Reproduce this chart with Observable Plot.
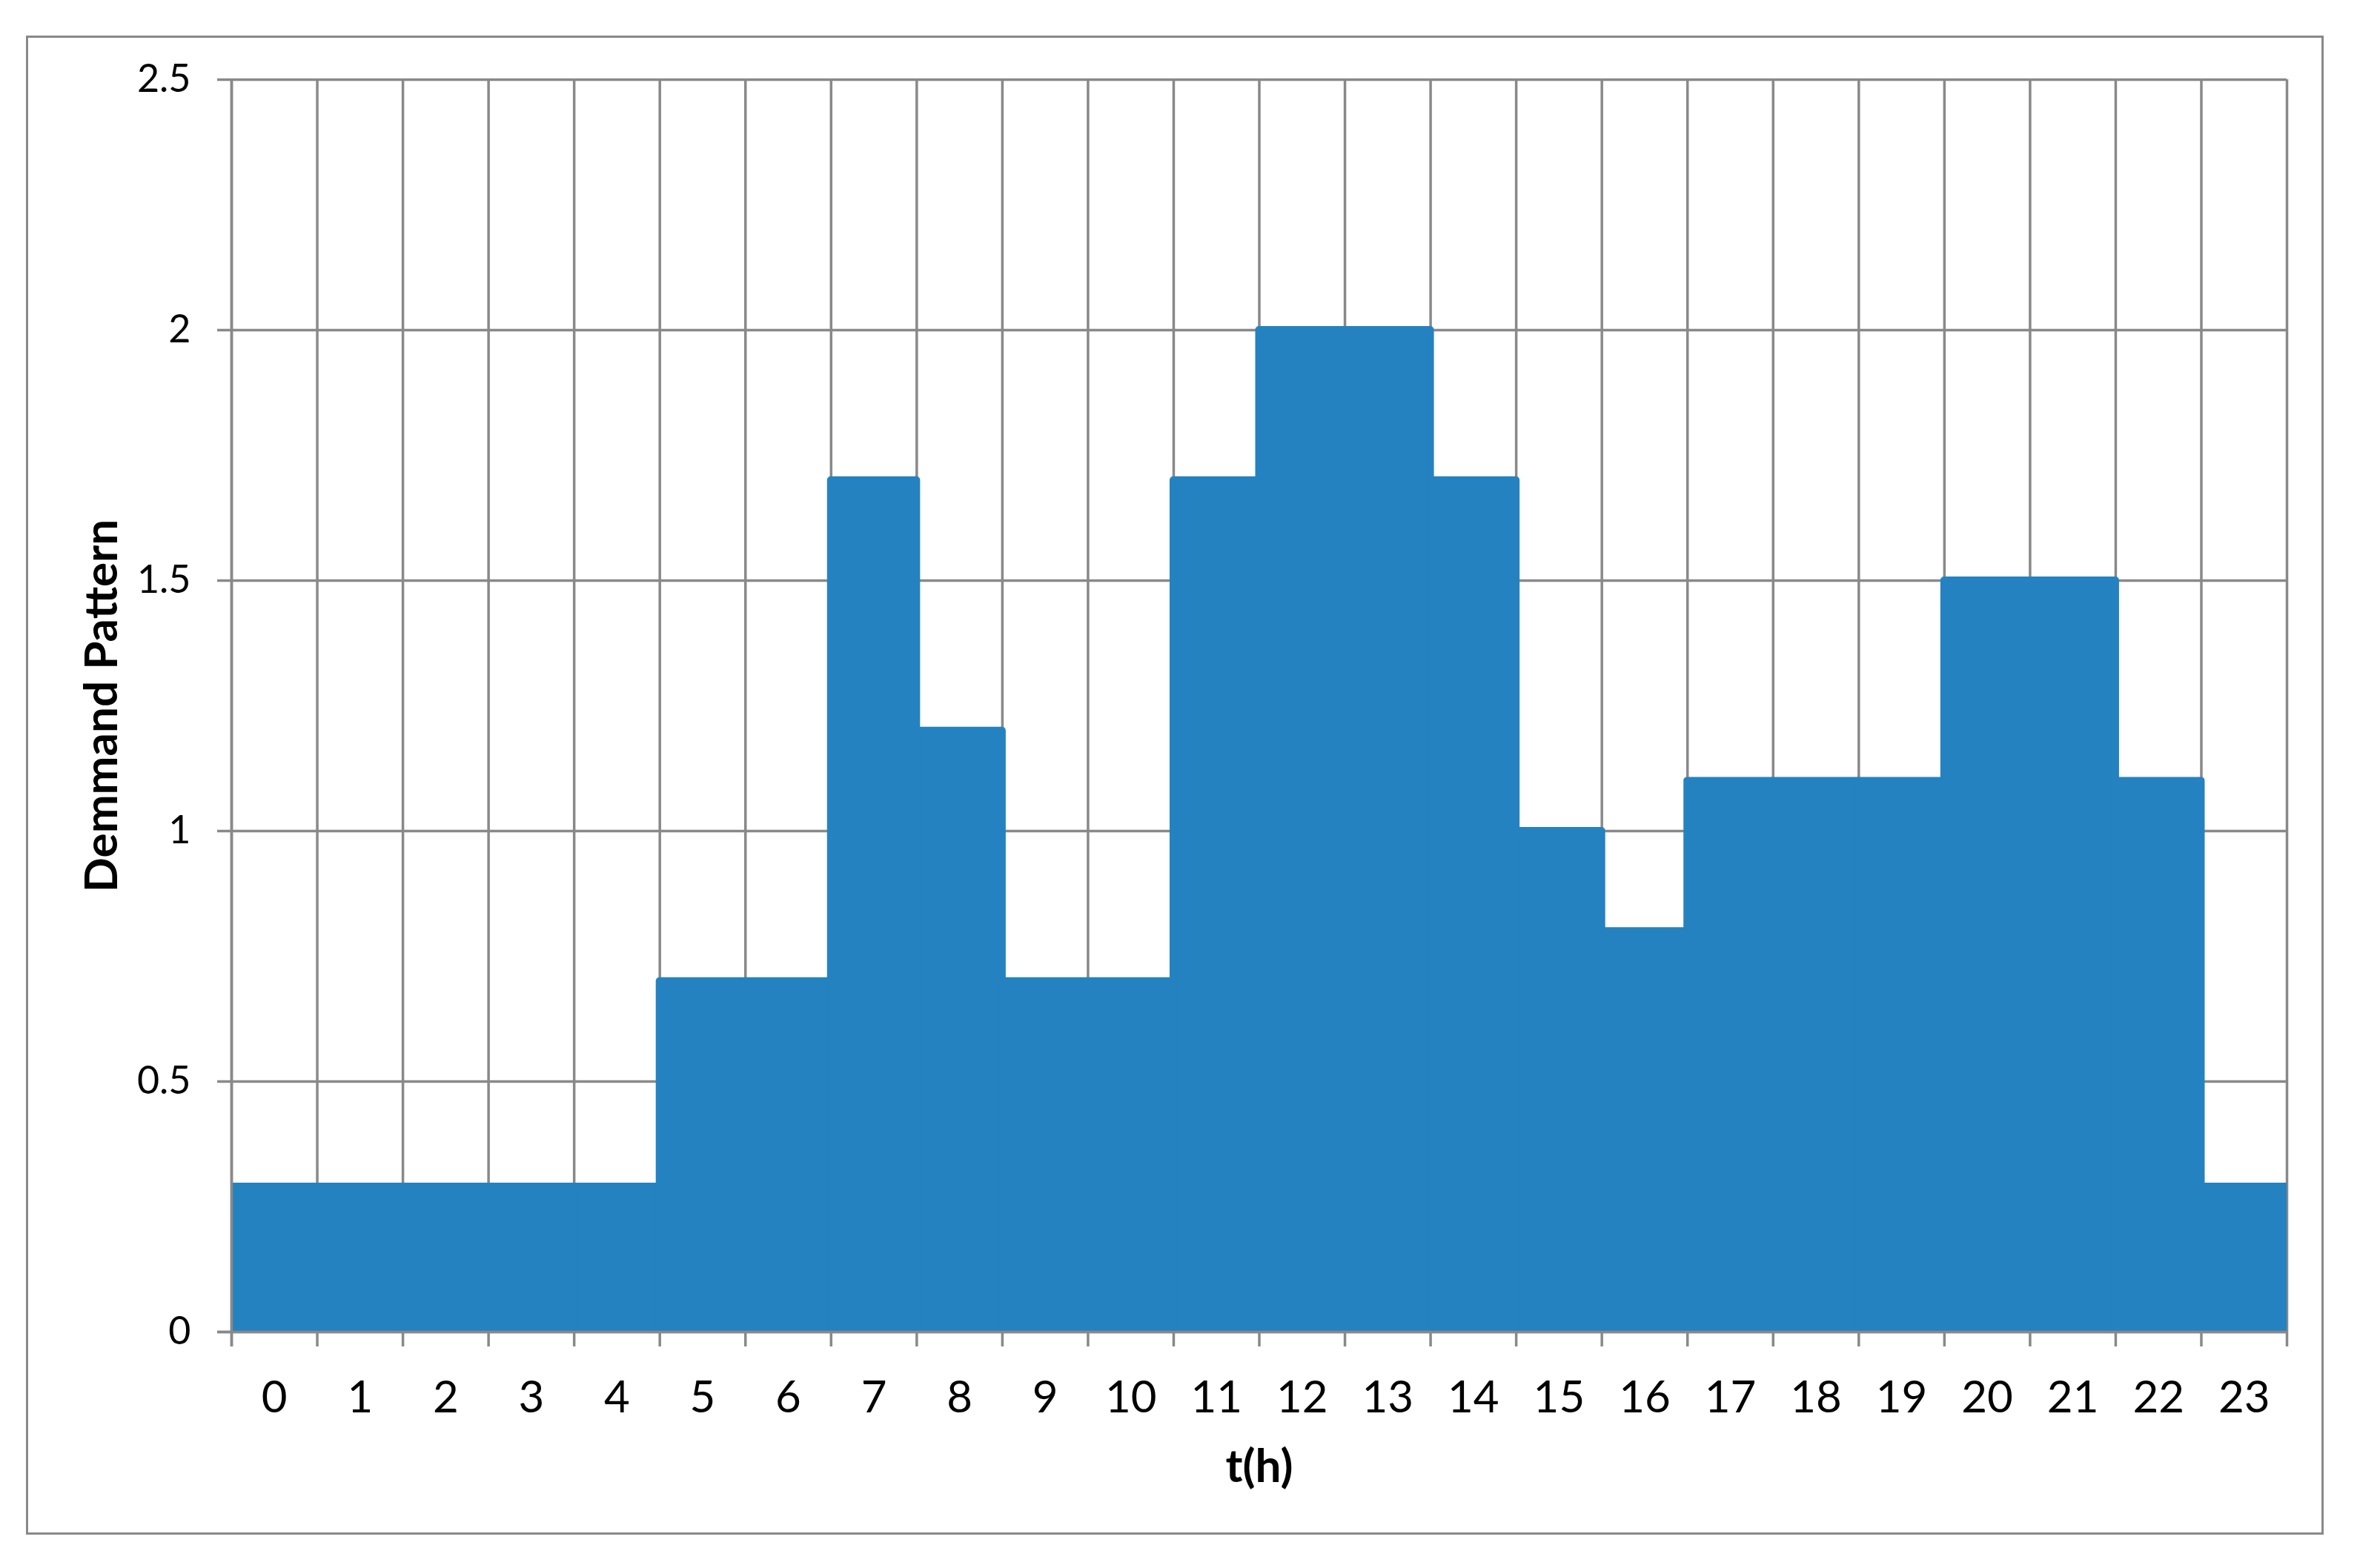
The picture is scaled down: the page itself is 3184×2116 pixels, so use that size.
<!DOCTYPE html>
<html>
<head>
<meta charset="utf-8">
<script src="https://cdn.jsdelivr.net/npm/d3@7"></script>
<script src="https://cdn.jsdelivr.net/npm/@observablehq/plot@0.6"></script>
<style>
  html, body { margin: 0; padding: 0; background: #ffffff; }
  body { width: 3184px; height: 2116px; position: relative; overflow: hidden; }
  #frame { position: absolute; left: 35px; top: 48px; width: 3100px; height: 2023px;
           border: 3.5px solid #898989; box-sizing: border-box; }
  #chart { position: absolute; left: 0; top: 0; }
</style>
</head>
<body>
<div id="frame"></div>
<div id="chart"></div>
<script>
// ---- data ----
const hours = [0,1,2,3,4,5,6,7,8,9,10,11,12,13,14,15,16,17,18,19,20,21,22,23];
const demand = [0.29,0.29,0.29,0.29,0.29,0.7,0.7,1.7,1.2,0.7,0.7,1.7,2,2,1.7,1,0.8,1.1,1.1,1.1,1.5,1.5,1.1,0.29];
const yTicks = [0,0.5,1,1.5,2,2.5];
const xTickLabels = ["0","1","2","3","4","5","6","7","8","9","10","11","12","13","14","15","16","17","18","19","20","21","22","23"];
const xTitle = "t(h)";
const yTitle = "Demmand Pattern";

const table = hours.map((h, i) => ({h, v: demand[i], label: xTickLabels[i]}));
const boundaries = [...hours, hours.length];

const grid = "#898989";
const blue = "#2582C0";

const chart = Plot.plot({
  width: 3184,
  height: 2116,
  marginLeft: 312,
  marginRight: 99,
  marginTop: 107,
  marginBottom: 319,
  x: {type: "linear", domain: [0, hours.length], axis: null},
  y: {type: "linear", domain: [0, 2.5], axis: null},
  style: {fontFamily: "Lato, 'Open Sans', sans-serif", background: "transparent", overflow: "visible", color: "#000"},
  marks: [
    // horizontal gridlines with left tick marks
    Plot.ruleY(yTicks, {y: d => d, x1: 0, x2: hours.length, stroke: grid, strokeWidth: 3.5, insetLeft: -19}),
    // vertical gridlines at hour boundaries with bottom tick marks
    Plot.ruleX(boundaries, {x: d => d, y1: 2.5, y2: 0, stroke: grid, strokeWidth: 3.5, insetBottom: -20}),
    // bars
    Plot.rectY(table, {x1: "h", x2: d => d.h + 1, y: "v", fill: blue, stroke: blue, strokeWidth: 10, strokeLinejoin: "round", clip: "frame"}),
    // axis lines on top
    Plot.ruleY([0], {y: d => d, x1: 0, x2: hours.length, stroke: grid, strokeWidth: 3.5, insetLeft: -19}),
    Plot.ruleX([0], {x: d => d, y1: 2.5, y2: 0, stroke: grid, strokeWidth: 3.5, insetBottom: -20}),
    // y tick labels
    Plot.text(yTicks, {y: d => d, text: d => String(d), frameAnchor: "left", dx: -55, textAnchor: "end", lineAnchor: "middle", fontSize: 52, fill: "#000"}),
    // x tick labels
    Plot.text(table, {x: d => d.h + 0.5, text: "label", frameAnchor: "bottom", dy: 108, lineAnchor: "bottom", textAnchor: "middle", fontSize: 60, fill: "#000"}),
    // axis titles
    Plot.text([xTitle], {text: d => d, frameAnchor: "bottom", dy: 202, lineAnchor: "bottom", textAnchor: "middle", fontSize: 62, fontWeight: "bold", fill: "#000"}),
    Plot.text([yTitle], {text: d => d, frameAnchor: "left", dx: -155, rotate: -90, lineAnchor: "bottom", textAnchor: "middle", fontSize: 62, fontWeight: "bold", fill: "#000"})
  ]
});
document.getElementById("chart").appendChild(chart);
</script>
</body>
</html>
